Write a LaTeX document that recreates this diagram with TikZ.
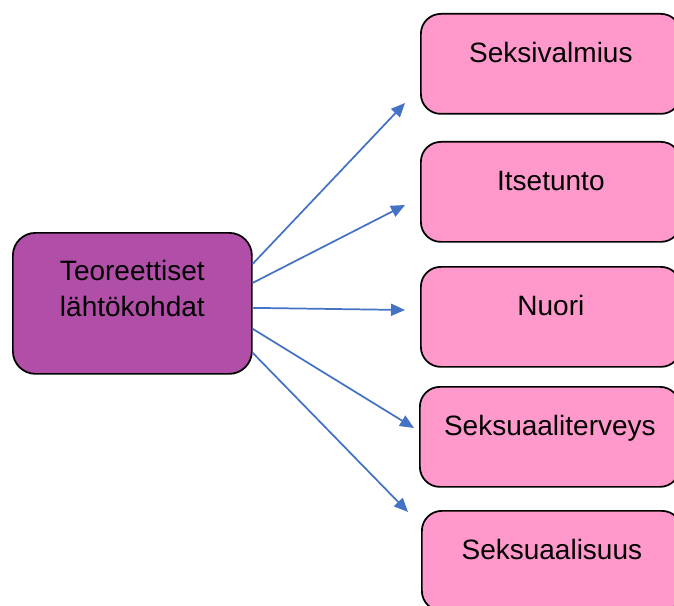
\documentclass[tikz,border=0pt]{standalone}
\usepackage{fontspec}
\setmainfont{Liberation Sans}
\usetikzlibrary{arrows.meta,calc}
\definecolor{theorypurple}{RGB}{176,78,168}
\definecolor{topicpink}{RGB}{255,153,204}
\definecolor{arrowblue}{RGB}{68,114,196}
\begin{document}
\begin{tikzpicture}[x=0.75pt,y=-0.75pt,
		theorybox/.style={draw=black,line width=1.3pt,fill=theorypurple,rounded corners=17pt,
			minimum width=179.25pt,minimum height=105.75pt,align=center,anchor=north west,
			font=\fontsize{21}{27}\selectfont},
		topicbox/.style={draw=black,line width=1.3pt,fill=topicpink,rounded corners=15pt,
			minimum width=195pt,inner ysep=0pt,text height=36.75pt,text depth=38.25pt,
			anchor=north west,font=\fontsize{21}{27}\selectfont},
		link/.style={draw=arrowblue,line width=1.3pt,-{Triangle[length=10.5pt,width=9pt]}}]
		\useasboundingbox (0,0) rectangle (674,606);
		\node[theorybox] (theory) at (12,232) {Teoreettiset\\lähtökohdat\\[-5pt]};
		\node[topicbox] (readiness) at (420,13) {Seksivalmius};
		\node[topicbox] (esteem) at (420,141) {Itsetunto};
		\node[topicbox] (youth) at (420,266) {Nuori};
		\node[topicbox] (health) at (419,386) {Seksuaaliterveys};
		\node[topicbox] (sexuality) at (421,510) {Seksuaalisuus};
		\coordinate (tip1) at (405,103);
		\coordinate (tip2) at (405,205);
		\coordinate (tip3) at (405,310);
		\coordinate (tip4) at (414,428);
		\coordinate (tip5) at (408,512);
		\path[link] ($(theory.east)+(0,-39.5)$) -- (tip1);
		\path[link] ($(theory.east)+(0,-20.5)$) -- (tip2);
		\path[link] ($(theory.east)+(0,4.5)$) -- (tip3);
		\path[link] ($(theory.east)+(0,25.5)$) -- (tip4);
		\path[link] ($(theory.east)+(0,49.5)$) -- (tip5);
	\end{tikzpicture}
\end{document}
